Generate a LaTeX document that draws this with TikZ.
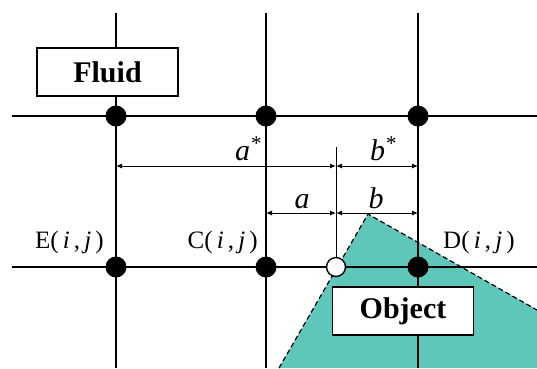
\documentclass[tikz,border=0pt]{standalone}
\usepackage{fontspec}
\setmainfont{Liberation Serif}
\usetikzlibrary{arrows.meta}
\definecolor{objfill}{RGB}{94,199,186}
\newcommand{\ijpt}[1]{#1(\,\textit{i}\,,\,\textit{j}\,)}

\begin{document}
\begin{tikzpicture}[
  x=1pt, y=-1pt,
  >={Latex[length=6pt,width=5pt]},
  grid/.style  ={line width=1.6pt},
  dot/.style   ={circle, fill=black, minimum size=21pt, inner sep=0pt},
  hole/.style  ={circle, draw=black, line width=1.4pt, fill=white, minimum size=19pt, inner sep=0pt},
  tag/.style   ={draw, line width=1.2pt, fill=white, font=\fontsize{30}{32}\bfseries\selectfont,
                 minimum width=141pt, minimum height=48pt, inner sep=0pt},
  ptlab/.style ={font=\fontsize{25}{27}\selectfont, inner sep=0pt},
  dimlab/.style={font=\fontsize{30}{32}\itshape\selectfont, inner sep=0pt, anchor=base},
  dim/.style   ={<->, line width=1pt},
  ext/.style   ={line width=1pt},
]
\useasboundingbox (0,0) rectangle (537,368);

%% ── Object region ───────────────────────────────────────
\fill[objfill] (279,368) -- (368,214) -- (537,310) -- (537,368) -- cycle;
\draw[line width=1.2pt, dash pattern=on 5pt off 3pt] (279,368) -- (368,214) -- (537,310);

%% ── Grid lines ──────────────────────────────────────────
\foreach \gx in {116,266,418}
  \draw[grid] (\gx,13) -- (\gx,368);
\draw[grid] (12,116) -- (537,116);
\draw[grid] (12,267) -- (537,267);

%% ── Boxes ───────────────────────────────────────────────
\node[tag] (fluid)  at (107.5,72) {Fluid};
\node[tag] (object) at (403,311)  {Object};

%% ── Grid points ─────────────────────────────────────────
\node[dot] (top1) at (116,116) {};
\node[dot] (top2) at (266,116) {};
\node[dot] (top3) at (418,116) {};
\node[dot] (E)    at (116,267) {};
\node[dot] (C)    at (266,267) {};
\node[dot] (D)    at (418,267) {};
\node[hole] (wall) at (336,267) {};

\node[ptlab, anchor=base east] (Elab) at (104,248) {\ijpt{E}};
\node[ptlab, anchor=base east] (Clab) at (258,248) {\ijpt{C}};
\node[ptlab, anchor=base west] (Dlab) at (443,248) {\ijpt{D}};

%% ── Dimensions ──────────────────────────────────────────
\coordinate (wtop) at (336,147);
\coordinate (astL) at (116,166);
\coordinate (astM) at (336,166);
\coordinate (astR) at (418,166);
\coordinate (aL)   at (266,213);
\coordinate (aM)   at (336,213);
\coordinate (aR)   at (418,213);

\draw[ext] (wtop) -- (wall.north);
\draw[dim] (astL) -- (astM);
\draw[dim] (astM) -- (astR);
\draw[dim] (aL) -- (aM);
\draw[dim] (aM) -- (aR);

\node[dimlab] (astxt) at (248,160) {a\textsuperscript{*}};
\node[dimlab] (bstxt) at (383,160) {b\textsuperscript{*}};
\node[dimlab] (atxt)  at (302,208) {a};
\node[dimlab] (btxt)  at (376,208) {b};

\end{tikzpicture}
\end{document}
